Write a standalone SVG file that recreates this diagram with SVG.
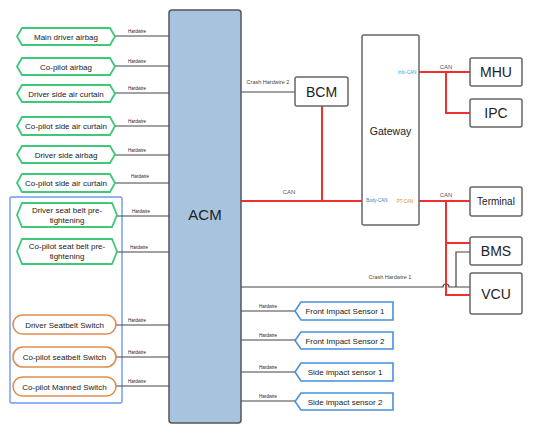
<svg xmlns="http://www.w3.org/2000/svg" width="534" height="435" viewBox="0 0 534 435">
<style>
text{font-family:"Liberation Sans",Arial,sans-serif;fill:#222}
.hx{fill:#fff;stroke:#3fc878;stroke-width:1.8}
.sw{fill:#fff;stroke:#e08c50;stroke-width:1.6}
.sn{fill:#fff;stroke:#4a90d9;stroke-width:1.6}
.bx{fill:#fff;stroke:#666;stroke-width:1.5}
.lbl{font-size:8px;text-anchor:middle}
.big{font-size:14px;text-anchor:middle}
.hw{font-size:4.5px;text-anchor:middle;fill:#555}
.w{stroke:#444;stroke-width:1.2;fill:none}
.r{stroke:#f03030;stroke-width:2;fill:none}
</style>
<rect width="534" height="435" fill="#fff"/>
<rect id="group-box" x="10" y="197" width="112" height="206" rx="2" fill="none" stroke="#6b9bf0" stroke-width="1.4"/>
<g id="connectors">
<path class="w" d="M115 36H169M115 66H169M115 93H169M115 126H169M115 155H169M115 183H169M117 216H169M117 252H169M116 325H169M116 357H169M116 386H169"/>
<path class="w" d="M241 311H295M241 340H295M241 372H295M241 401H295"/>
<path class="w" d="M241 92H295"/>
<path class="w" d="M241 287H443a3 3 0 0 1 6 0H470M456 287V252H470"/>
<path class="r" d="M241 201H362M322 106V201"/>
<path class="r" d="M419 72H470M446 72V113H470"/>
<path class="r" d="M419 201H470M446 201V295H470M446 243H470"/>
<g class="hw">
<text x="137" y="33">Hardwire</text><text x="137" y="63">Hardwire</text><text x="137" y="90">Hardwire</text><text x="137" y="123">Hardwire</text><text x="137" y="152">Hardwire</text><text x="140" y="178">Hardwire</text><text x="141" y="213">Hardwire</text><text x="139" y="249">Hardwire</text><text x="137" y="322">Hardwire</text><text x="137" y="354">Hardwire</text><text x="137" y="383">Hardwire</text>
<text x="268" y="308">Hardwire</text><text x="268" y="337">Hardwire</text><text x="268" y="369">Hardwire</text><text x="268" y="398">Hardwire</text>
</g>
<text x="268" y="84" style="font-size:5.5px;text-anchor:middle;fill:#444">Crash Hardwire 2</text>
<text x="390" y="279" style="font-size:5.5px;text-anchor:middle;fill:#444">Crash Hardwire 1</text>
<text x="289" y="194" style="font-size:6px;text-anchor:middle;fill:#555">CAN</text>
<text x="446" y="69" style="font-size:6px;text-anchor:middle;fill:#555">CAN</text>
<text x="446" y="197" style="font-size:6px;text-anchor:middle;fill:#555">CAN</text>
</g>
<g id="acm"><rect x="169" y="10" width="72" height="413" rx="3" fill="#a7c3de" stroke="#555" stroke-width="1.5"/><text x="205" y="220" style="font-size:15px;text-anchor:middle">ACM</text></g>
<g id="bcm"><rect class="bx" x="295" y="77" width="53" height="29" rx="2"/><text class="big" x="321.5" y="96.5">BCM</text></g>
<g id="gateway"><rect class="bx" x="362" y="35" width="57" height="190" rx="2"/><text x="390.5" y="135" style="font-size:10.5px;text-anchor:middle">Gateway</text>
<text x="407" y="74" style="font-size:4.5px;text-anchor:middle;fill:#2aa8e8">Info-CAN</text>
<text x="377" y="202" style="font-size:4.5px;text-anchor:middle;fill:#3a7ccc">Body-CAN</text>
<text x="405" y="203" style="font-size:4.5px;text-anchor:middle;fill:#e08c40">PT-CAN</text></g>
<g id="mhu"><rect class="bx" x="470" y="58" width="52" height="28" rx="2"/><text class="big" x="496" y="77">MHU</text></g>
<g id="ipc"><rect class="bx" x="470" y="99" width="52" height="28" rx="2"/><text class="big" x="496" y="118">IPC</text></g>
<g id="terminal"><rect class="bx" x="470" y="187" width="52" height="29" rx="2"/><text x="496" y="205" style="font-size:10px;text-anchor:middle">Terminal</text></g>
<g id="bms"><rect class="bx" x="470" y="237" width="52" height="28" rx="2"/><text class="big" x="496" y="256">BMS</text></g>
<g id="vcu"><rect class="bx" x="470" y="273" width="52" height="41" rx="2"/><text class="big" x="496" y="299">VCU</text></g>
<g id="n1"><path class="hx" d="M22 28H110L115 36.5L110 45H22L17 36.5Z"/><text class="lbl" x="66" y="39.5">Main driver airbag</text></g>
<g id="n2"><path class="hx" d="M22 58H110L115 66.5L110 75H22L17 66.5Z"/><text class="lbl" x="66" y="69.5">Co-pilot airbag</text></g>
<g id="n3"><path class="hx" d="M22 85H110L115 93.5L110 102H22L17 93.5Z"/><text class="lbl" x="66" y="96.5">Driver side air curtain</text></g>
<g id="n4"><path class="hx" d="M22 117H110L115 126L110 135H22L17 126Z"/><text class="lbl" x="66" y="129">Co-pilot side air curtain</text></g>
<g id="n5"><path class="hx" d="M22 146H110L115 154.5L110 163H22L17 154.5Z"/><text class="lbl" x="66" y="157.5">Driver side airbag</text></g>
<g id="n6"><path class="hx" d="M22 174H110L115 183L110 192H22L17 183Z"/><text class="lbl" x="66" y="186">Co-pilot side air curtain</text></g>
<g id="n7"><path class="hx" d="M22 203H112L117 215L112 227H22L17 215Z"/><text class="lbl" x="67" y="213">Driver seat belt pre-</text><text class="lbl" x="67" y="223">tightening</text></g>
<g id="n8"><path class="hx" d="M22 239H112L117 251.5L112 264H22L17 251.5Z"/><text class="lbl" x="67" y="249">Co-pilot seat belt pre-</text><text class="lbl" x="67" y="259">tightening</text></g>
<g id="n9"><rect class="sw" x="13" y="315" width="103" height="19" rx="9.5"/><text class="lbl" x="64.5" y="327.5">Driver Seatbelt Switch</text></g>
<g id="n10"><rect class="sw" x="13" y="347" width="103" height="20" rx="10"/><text class="lbl" x="64.5" y="360">Co-pilot seatbelt Switch</text></g>
<g id="n11"><rect class="sw" x="13" y="377" width="103" height="19" rx="9.5"/><text class="lbl" x="64.5" y="389.5">Co-pilot Manned Switch</text></g>
<g id="s1"><path class="sn" d="M301 302H393V320H301L295 311Z"/><text class="lbl" x="345" y="314">Front Impact Sensor 1</text></g>
<g id="s2"><path class="sn" d="M301 332H393V349H301L295 340.5Z"/><text class="lbl" x="345" y="343.5">Front Impact Sensor 2</text></g>
<g id="s3"><path class="sn" d="M301 363H393V381H301L295 372Z"/><text class="lbl" x="345" y="375">Side impact sensor 1</text></g>
<g id="s4"><path class="sn" d="M301 393H393V410H301L295 401.5Z"/><text class="lbl" x="345" y="404.5">Side impact sensor 2</text></g>
</svg>
